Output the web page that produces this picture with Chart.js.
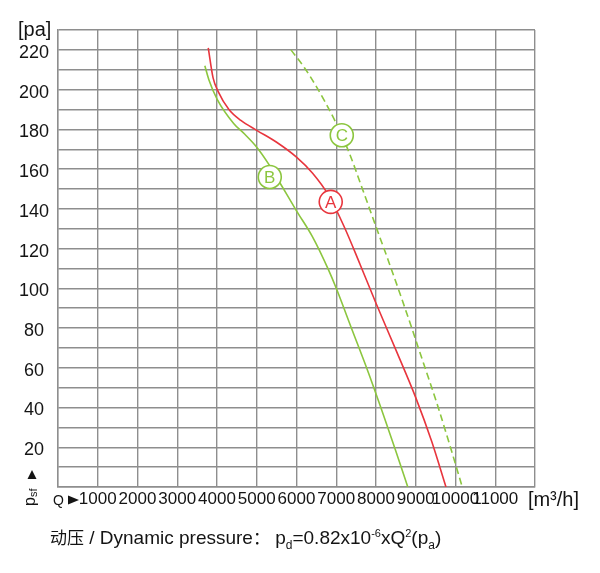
<!DOCTYPE html>
<html><head><meta charset="utf-8">
<script src="https://cdn.jsdelivr.net/npm/chart.js@4"></script>
<style>html,body{margin:0;padding:0;background:#fff}</style>
</head><body>
<canvas id="c" width="600" height="573"></canvas>
<script>
// ---- data ----
const qTicks = [1000,2000,3000,4000,5000,6000,7000,8000,9000,10000,11000];
const pTicks = [20,40,60,80,100,120,140,160,180,200,220];

const curveA_Q = [3780,3900,4030,4300,4600,5000,5500,6000,6400,6800,7200,7600,8000,8500,9000,9400,9760];
const curveA_p = [221,206,199,190,184.5,179.5,173.5,166,158,147,131,112,92.5,69,45,23,0];

const curveB_Q = [3694,3795,4008,4419,4700,5000,5300,5600,6000,6400,6800,7000,7400,7800,8200,8500,8800];
const curveB_p = [212,205,195,183,177.5,171,162.5,152.5,139,126,109.5,100,79,58,35.5,18,0];

const curveC_Q = [5860,6200,6500,6950,7300,7650,8000,8300,8600,8900,9200,9550,9850,10170];
const curveC_p = [220,211,201.5,185,169.5,150.5,131,114.5,97.5,80,62,41,21.5,0];

const markNames = ['A','B','C'];
const markQ = [6861,5328,7139];
const markP = [143.5,156,177];

const RED = '#e8353d', GREEN = '#8cc63f';
const markColors = [RED, GREEN, GREEN];

function pts(qs, ps){ return qs.map((q,i)=>({x:q, y:ps[i]})); }

const FONT = '"Liberation Sans", Arial, Helvetica, sans-serif';
const CJK = '"Noto Sans CJK SC", sans-serif';
const GRID = '#8e8e8e';
const TXT = '#141414';

const deco = {
  id: 'deco',
  afterDatasetsDraw(chart){
    const {ctx, scales:{x, y}} = chart;
    markNames.forEach((n,i)=>{
      const px = x.getPixelForValue(markQ[i]), py = y.getPixelForValue(markP[i]);
      ctx.save();
      ctx.beginPath(); ctx.arc(px, py, 11.5, 0, Math.PI*2);
      ctx.fillStyle = '#fff'; ctx.fill();
      ctx.lineWidth = 1.6; ctx.strokeStyle = markColors[i]; ctx.stroke();
      ctx.fillStyle = markColors[i];
      ctx.font = '17px ' + FONT; ctx.textAlign = 'center'; ctx.textBaseline = 'middle';
      ctx.fillText(n, px, py + 1);
      ctx.restore();
    });
  },
  afterDraw(chart){
    const ctx = chart.ctx;
    ctx.save();
    ctx.fillStyle = TXT;
    ctx.textBaseline = 'middle';
    // [pa]
    ctx.font = '20px ' + FONT; ctx.textAlign = 'left';
    ctx.fillText('[pa]', 18, 30);
    // [m³/h]
    ctx.textAlign = 'right';
    ctx.fillText('[m³/h]', 579, 500);
    // Q ►
    ctx.textAlign = 'left';
    ctx.font = '14px ' + FONT;
    ctx.fillText('Q', 53, 501);
    ctx.beginPath(); ctx.moveTo(68, 495.5); ctx.lineTo(79, 500); ctx.lineTo(68, 504.5); ctx.closePath(); ctx.fill();
    // ▲ psf (rotated)
    ctx.beginPath(); ctx.moveTo(27.5, 479); ctx.lineTo(32, 470); ctx.lineTo(36.5, 479); ctx.closePath(); ctx.fill();
    ctx.save();
    ctx.translate(32, 506); ctx.rotate(-Math.PI/2);
    ctx.textAlign = 'left'; ctx.textBaseline = 'middle';
    ctx.font = '16px ' + FONT;
    ctx.fillText('p', 0, -1);
    const wp = ctx.measureText('p').width;
    ctx.font = '11px ' + FONT;
    ctx.fillText('sf', wp, 2);
    ctx.restore();
    // formula line
    const runs = [
      ['动压', '17px ' + CJK, 0],
      [' / Dynamic pressure', '19px ' + FONT, 0],
      ['：', '17px ' + CJK, 0],
      [' p', '19px ' + FONT, 0],
      ['d', '12px ' + FONT, 5],
      ['=0.82x10', '19px ' + FONT, 0],
      ['-6', '11px ' + FONT, -7],
      ['xQ', '19px ' + FONT, 0],
      ['2', '11px ' + FONT, -7],
      ['(p', '19px ' + FONT, 0],
      ['a', '12px ' + FONT, 5],
      [')', '19px ' + FONT, 0]
    ];
    let cx = 50; const base = 544;
    ctx.textBaseline = 'alphabetic'; ctx.textAlign = 'left';
    runs.forEach(([t, f, dy])=>{
      ctx.font = f; ctx.fillText(t, cx, base + dy); cx += ctx.measureText(t).width;
    });
    ctx.restore();
  }
};

new Chart(document.getElementById('c'), {
  type: 'scatter',
  data: {
    datasets: [
      {label:'A', data: pts(curveA_Q, curveA_p), borderColor: RED},
      {label:'B', data: pts(curveB_Q, curveB_p), borderColor: GREEN},
      {label:'C', data: pts(curveC_Q, curveC_p), borderColor: GREEN, borderDash:[7,4]}
    ].map(d => Object.assign({showLine:true, pointRadius:0, borderWidth:1.6, cubicInterpolationMode:'monotone', fill:false}, d))
  },
  options: {
    responsive: false,
    animation: false,
    events: [],
    layout: {padding: {top: 30, right: 65, bottom: 0, left: 0}},
    plugins: {legend: {display:false}, tooltip: {enabled:false}},
    scales: {
      x: {
        type: 'linear', position: 'bottom', min: 0, max: 12000,
        grid: {color: GRID, lineWidth: 1.4, drawTicks: false},
        border: {display: true, color: GRID, width: 1.4},
        ticks: {stepSize: 1000, autoSkip: false, maxRotation: 0, minRotation: 0, padding: 2,
          color: TXT, font: {family: FONT, size: 17},
          callback: v => qTicks.includes(v) ? String(v) : ''},
        afterFit: s => { s.height = 86; }
      },
      y: {
        type: 'linear', min: 0, max: 230,
        grid: {color: GRID, lineWidth: 1.4, drawTicks: false},
        border: {display: true, color: GRID, width: 1.4},
        ticks: {stepSize: 10, autoSkip: false, padding: 9, crossAlign: 'center', labelOffset: 3,
          color: TXT, font: {family: FONT, size: 18},
          callback: v => pTicks.includes(v) ? String(v) : ''},
        afterFit: s => { s.width = 58; }
      }
    }
  },
  plugins: [deco]
});
</script>
</body></html>
